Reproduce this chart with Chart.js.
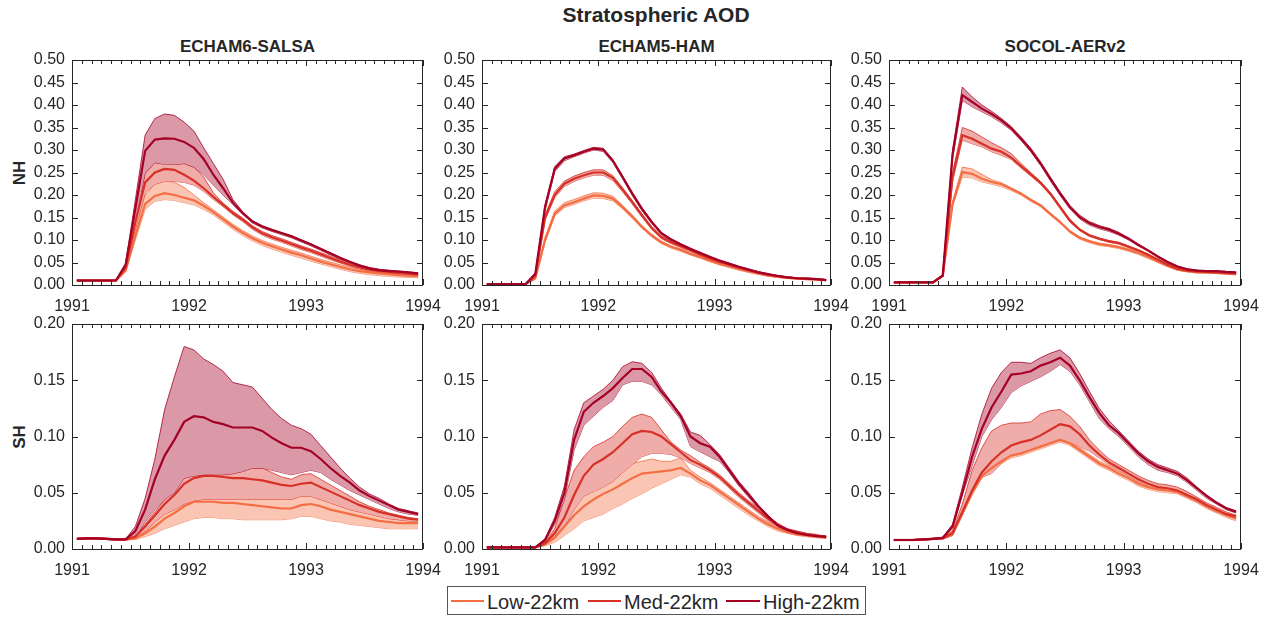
<!DOCTYPE html>
<html>
<head>
<meta charset="utf-8">
<script src="https://cdn.jsdelivr.net/npm/chart.js@4.4.1/dist/chart.umd.min.js"></script>
<style>
  body { margin: 0; background: #fff; font-family: "Liberation Sans", Arial, sans-serif; color: #262626; }
  #fig { position: relative; width: 1270px; height: 619px; overflow: hidden; }
  .panel { position: absolute; }
  .txt { position: absolute; line-height: 1; white-space: nowrap; font-weight: bold; }
  .rowlab { position: absolute; line-height: 1; font-weight: bold; font-size: 17px; transform: translate(-50%, -50%) rotate(-90deg); }
  #legend { position: absolute; left: 447px; top: 586px; width: 417px; height: 27px; border: 1px solid #555; background: #fff; }
  .lgline { position: absolute; height: 2px; top: 13px; }
  .lgtext { position: absolute; top: 5px; font-size: 20px; line-height: 1; }
</style>
</head>
<body>
<div id="fig">
  <div class="txt" style="left:656px; top:4px; font-size:21px; transform:translateX(-50%);">Stratospheric AOD</div>
  <div class="txt" style="left:247.5px; top:38px; font-size:17px; transform:translateX(-50%);">ECHAM6-SALSA</div>
  <div class="txt" style="left:656.5px; top:38px; font-size:17px; transform:translateX(-50%);">ECHAM5-HAM</div>
  <div class="txt" style="left:1065px; top:38px; font-size:17px; transform:translateX(-50%);">SOCOL-AERv2</div>
  <div class="rowlab" style="left:19px; top:172.5px;">NH</div>
  <div class="rowlab" style="left:19px; top:436.5px;">SH</div>
  <div id="legend">
    <div class="lgline" style="left:3px; width:33px; background:#f46d43;"></div>
    <div class="lgtext" style="left:39px;">Low-22km</div>
    <div class="lgline" style="left:140px; width:33px; background:#d73027;"></div>
    <div class="lgtext" style="left:176px;">Med-22km</div>
    <div class="lgline" style="left:278px; width:34px; background:#a50026;"></div>
    <div class="lgtext" style="left:315px;">High-22km</div>
  </div>
</div>

<script>
// monthly means, Jan 1991 - Dec 1993
const months = ['1991-01','1991-02','1991-03','1991-04','1991-05','1991-06','1991-07','1991-08','1991-09','1991-10','1991-11','1991-12',
                '1992-01','1992-02','1992-03','1992-04','1992-05','1992-06','1992-07','1992-08','1992-09','1992-10','1992-11','1992-12',
                '1993-01','1993-02','1993-03','1993-04','1993-05','1993-06','1993-07','1993-08','1993-09','1993-10','1993-11','1993-12'];
const yearTicks = [1991, 1992, 1993, 1994];
const models = ['ECHAM6-SALSA', 'ECHAM5-HAM', 'SOCOL-AERv2'];
const scenarios = ['Low-22km', 'Med-22km', 'High-22km'];

// ECHAM6-SALSA, NH
const salsaNhHighMean = [0.010,0.010,0.010,0.010,0.010,0.045,0.170,0.298,0.323,0.326,0.325,0.318,0.305,0.280,0.245,0.215,0.183,0.160,0.141,0.130,0.122,0.115,0.108,0.099,0.090,0.080,0.070,0.060,0.051,0.043,0.037,0.033,0.031,0.030,0.028,0.026];
const salsaNhHighMax  = [0.011,0.011,0.011,0.011,0.011,0.048,0.190,0.333,0.370,0.380,0.377,0.362,0.342,0.305,0.270,0.235,0.190,0.163,0.143,0.132,0.124,0.117,0.110,0.101,0.092,0.082,0.072,0.062,0.053,0.045,0.039,0.035,0.033,0.031,0.029,0.027];
const salsaNhHighMin  = [0.009,0.009,0.009,0.009,0.009,0.040,0.140,0.250,0.272,0.268,0.268,0.270,0.262,0.245,0.222,0.200,0.178,0.157,0.138,0.127,0.119,0.112,0.105,0.096,0.087,0.077,0.067,0.058,0.049,0.041,0.035,0.031,0.029,0.028,0.026,0.024];
const salsaNhMedMean  = [0.010,0.010,0.010,0.010,0.010,0.038,0.140,0.228,0.250,0.258,0.256,0.245,0.232,0.215,0.196,0.178,0.160,0.145,0.128,0.115,0.106,0.099,0.091,0.083,0.076,0.068,0.060,0.052,0.045,0.039,0.034,0.031,0.029,0.027,0.025,0.023];
const salsaNhMedMax   = [0.011,0.011,0.011,0.011,0.011,0.040,0.155,0.248,0.272,0.270,0.268,0.270,0.262,0.240,0.205,0.182,0.164,0.149,0.132,0.119,0.110,0.103,0.095,0.087,0.080,0.072,0.064,0.056,0.049,0.042,0.037,0.034,0.031,0.029,0.027,0.025];
const salsaNhMedMin   = [0.009,0.009,0.009,0.009,0.009,0.036,0.125,0.205,0.224,0.230,0.230,0.228,0.222,0.208,0.190,0.174,0.156,0.141,0.124,0.111,0.102,0.095,0.087,0.079,0.072,0.064,0.056,0.049,0.042,0.036,0.031,0.028,0.026,0.025,0.023,0.021];
const salsaNhLowMean  = [0.0095,0.0095,0.0095,0.0095,0.0095,0.032,0.110,0.180,0.198,0.204,0.200,0.194,0.188,0.176,0.162,0.146,0.130,0.116,0.104,0.094,0.086,0.079,0.072,0.066,0.059,0.052,0.046,0.040,0.035,0.031,0.028,0.026,0.024,0.022,0.021,0.019];
const salsaNhLowMax   = [0.010,0.010,0.010,0.010,0.010,0.035,0.125,0.200,0.225,0.232,0.228,0.217,0.200,0.183,0.167,0.151,0.135,0.121,0.109,0.099,0.091,0.084,0.077,0.071,0.064,0.057,0.051,0.045,0.040,0.035,0.032,0.030,0.028,0.026,0.025,0.023];
const salsaNhLowMin   = [0.009,0.009,0.009,0.009,0.009,0.030,0.100,0.168,0.186,0.190,0.188,0.183,0.178,0.168,0.156,0.140,0.124,0.110,0.098,0.088,0.080,0.073,0.066,0.060,0.053,0.047,0.041,0.035,0.030,0.026,0.023,0.021,0.019,0.018,0.017,0.016];

// ECHAM5-HAM, NH
const hamNhHighMean = [0.002,0.002,0.002,0.002,0.002,0.025,0.173,0.258,0.281,0.288,0.296,0.303,0.301,0.276,0.240,0.203,0.169,0.140,0.115,0.101,0.090,0.080,0.071,0.062,0.054,0.047,0.040,0.034,0.028,0.024,0.020,0.017,0.015,0.014,0.013,0.011];
const hamNhHighMax  = [0.0025,0.0025,0.0025,0.0025,0.0025,0.027,0.178,0.263,0.285,0.291,0.299,0.306,0.304,0.279,0.243,0.206,0.172,0.143,0.117,0.103,0.092,0.082,0.073,0.064,0.056,0.049,0.042,0.036,0.030,0.025,0.021,0.018,0.016,0.015,0.014,0.012];
const hamNhHighMin  = [0.0015,0.0015,0.0015,0.0015,0.0015,0.023,0.165,0.252,0.276,0.285,0.293,0.300,0.297,0.272,0.236,0.199,0.165,0.137,0.112,0.098,0.088,0.078,0.069,0.060,0.052,0.045,0.038,0.032,0.027,0.023,0.019,0.016,0.014,0.013,0.012,0.010];
const hamNhMedMean  = [0.002,0.002,0.002,0.002,0.002,0.020,0.150,0.200,0.225,0.236,0.244,0.250,0.250,0.238,0.212,0.184,0.155,0.127,0.106,0.095,0.086,0.077,0.068,0.059,0.052,0.045,0.039,0.033,0.028,0.023,0.020,0.017,0.015,0.014,0.013,0.011];
const hamNhMedMax   = [0.0025,0.0025,0.0025,0.0025,0.0025,0.022,0.156,0.207,0.231,0.242,0.250,0.256,0.256,0.243,0.216,0.188,0.158,0.130,0.109,0.097,0.088,0.079,0.070,0.061,0.054,0.047,0.040,0.034,0.029,0.024,0.021,0.018,0.016,0.015,0.014,0.012];
const hamNhMedMin   = [0.0015,0.0015,0.0015,0.0015,0.0015,0.018,0.144,0.194,0.219,0.230,0.238,0.244,0.244,0.232,0.207,0.180,0.151,0.124,0.103,0.092,0.083,0.074,0.066,0.057,0.050,0.043,0.037,0.031,0.026,0.022,0.019,0.016,0.014,0.013,0.012,0.010];
const hamNhLowMean  = [0.002,0.002,0.002,0.002,0.002,0.015,0.100,0.158,0.177,0.184,0.192,0.199,0.198,0.192,0.173,0.152,0.129,0.110,0.095,0.085,0.078,0.069,0.062,0.054,0.047,0.041,0.035,0.030,0.025,0.021,0.018,0.016,0.014,0.013,0.012,0.011];
const hamNhLowMax   = [0.0025,0.0025,0.0025,0.0025,0.0025,0.017,0.106,0.164,0.183,0.190,0.198,0.205,0.204,0.197,0.177,0.156,0.132,0.113,0.097,0.087,0.080,0.071,0.064,0.056,0.049,0.043,0.037,0.031,0.026,0.022,0.019,0.017,0.015,0.014,0.013,0.012];
const hamNhLowMin   = [0.0015,0.0015,0.0015,0.0015,0.0015,0.013,0.095,0.153,0.172,0.179,0.187,0.193,0.192,0.187,0.169,0.148,0.126,0.107,0.092,0.082,0.075,0.067,0.060,0.052,0.045,0.039,0.033,0.028,0.024,0.020,0.017,0.015,0.013,0.012,0.011,0.010];

// SOCOL-AERv2, NH
const socolNhHighMean = [0.006,0.006,0.006,0.006,0.006,0.021,0.290,0.422,0.407,0.392,0.380,0.366,0.348,0.325,0.300,0.270,0.236,0.203,0.173,0.151,0.137,0.129,0.123,0.114,0.103,0.089,0.077,0.063,0.051,0.041,0.035,0.032,0.031,0.031,0.029,0.028];
const socolNhHighMax  = [0.0065,0.0065,0.0065,0.0065,0.0065,0.023,0.300,0.440,0.418,0.400,0.386,0.370,0.352,0.329,0.304,0.274,0.240,0.207,0.177,0.155,0.141,0.132,0.126,0.117,0.105,0.091,0.078,0.065,0.052,0.042,0.036,0.033,0.032,0.031,0.030,0.028];
const socolNhHighMin  = [0.0055,0.0055,0.0055,0.0055,0.0055,0.019,0.280,0.410,0.396,0.385,0.374,0.360,0.344,0.321,0.296,0.266,0.232,0.199,0.169,0.147,0.133,0.125,0.119,0.111,0.100,0.087,0.075,0.061,0.049,0.040,0.034,0.031,0.030,0.030,0.028,0.027];
const socolNhMedMean  = [0.006,0.006,0.006,0.006,0.006,0.021,0.240,0.333,0.325,0.314,0.303,0.296,0.283,0.264,0.246,0.227,0.203,0.173,0.143,0.123,0.110,0.103,0.097,0.093,0.085,0.077,0.067,0.056,0.045,0.036,0.032,0.030,0.029,0.028,0.027,0.025];
const socolNhMedMax   = [0.0065,0.0065,0.0065,0.0065,0.0065,0.023,0.250,0.350,0.342,0.329,0.316,0.305,0.292,0.270,0.250,0.230,0.206,0.176,0.146,0.125,0.112,0.104,0.099,0.095,0.087,0.078,0.069,0.057,0.047,0.038,0.033,0.031,0.030,0.029,0.028,0.026];
const socolNhMedMin   = [0.0055,0.0055,0.0055,0.0055,0.0055,0.019,0.230,0.322,0.314,0.307,0.296,0.288,0.279,0.260,0.242,0.224,0.200,0.170,0.140,0.121,0.108,0.101,0.095,0.091,0.083,0.075,0.065,0.054,0.044,0.035,0.031,0.029,0.028,0.027,0.026,0.024];
const socolNhLowMean  = [0.006,0.006,0.006,0.006,0.006,0.021,0.180,0.251,0.247,0.236,0.229,0.224,0.214,0.203,0.189,0.177,0.158,0.140,0.119,0.105,0.097,0.091,0.088,0.084,0.078,0.071,0.062,0.052,0.042,0.034,0.031,0.028,0.028,0.027,0.025,0.024];
const socolNhLowMax   = [0.0065,0.0065,0.0065,0.0065,0.0065,0.023,0.185,0.262,0.258,0.246,0.234,0.227,0.216,0.205,0.191,0.179,0.160,0.142,0.121,0.107,0.099,0.093,0.090,0.086,0.080,0.072,0.063,0.053,0.043,0.035,0.031,0.029,0.028,0.028,0.026,0.025];
const socolNhLowMin   = [0.0055,0.0055,0.0055,0.0055,0.0055,0.019,0.175,0.240,0.238,0.229,0.224,0.218,0.210,0.200,0.186,0.174,0.155,0.137,0.116,0.102,0.094,0.088,0.085,0.081,0.075,0.068,0.059,0.050,0.041,0.033,0.029,0.027,0.026,0.026,0.024,0.023];

// ECHAM6-SALSA, SH
const salsaShHighMean = [0.009,0.0095,0.0095,0.009,0.0085,0.0085,0.016,0.035,0.062,0.083,0.097,0.113,0.118,0.117,0.113,0.111,0.108,0.108,0.108,0.105,0.099,0.094,0.090,0.090,0.087,0.080,0.072,0.065,0.059,0.052,0.047,0.043,0.039,0.035,0.033,0.031];
const salsaShHighMax  = [0.0095,0.010,0.010,0.0095,0.009,0.009,0.020,0.045,0.080,0.124,0.153,0.180,0.177,0.169,0.164,0.158,0.148,0.146,0.144,0.134,0.124,0.116,0.110,0.107,0.102,0.092,0.082,0.072,0.063,0.055,0.049,0.045,0.040,0.036,0.034,0.032];
const salsaShHighMin  = [0.0085,0.009,0.009,0.0085,0.008,0.008,0.011,0.024,0.035,0.044,0.050,0.063,0.065,0.066,0.066,0.066,0.067,0.069,0.072,0.072,0.070,0.068,0.066,0.068,0.070,0.068,0.062,0.057,0.052,0.048,0.044,0.040,0.036,0.033,0.031,0.030];
const salsaShMedMean  = [0.009,0.0095,0.0095,0.009,0.0085,0.0085,0.011,0.020,0.030,0.040,0.048,0.058,0.063,0.065,0.065,0.064,0.063,0.063,0.062,0.061,0.059,0.057,0.056,0.058,0.059,0.055,0.051,0.047,0.043,0.039,0.036,0.033,0.031,0.029,0.027,0.026];
const salsaShMedMax   = [0.0095,0.010,0.010,0.0095,0.009,0.009,0.012,0.022,0.033,0.044,0.052,0.063,0.065,0.066,0.066,0.066,0.067,0.069,0.072,0.072,0.068,0.064,0.062,0.066,0.067,0.062,0.057,0.052,0.047,0.042,0.038,0.035,0.032,0.030,0.028,0.027];
const salsaShMedMin   = [0.0085,0.009,0.009,0.0085,0.008,0.008,0.0095,0.016,0.024,0.031,0.035,0.040,0.043,0.044,0.044,0.044,0.044,0.044,0.044,0.044,0.044,0.044,0.044,0.047,0.047,0.044,0.041,0.038,0.035,0.033,0.031,0.029,0.027,0.026,0.025,0.025];
const salsaShLowMean  = [0.009,0.0095,0.0095,0.009,0.0085,0.0085,0.0095,0.014,0.020,0.027,0.032,0.038,0.042,0.042,0.042,0.041,0.041,0.040,0.039,0.038,0.037,0.036,0.036,0.039,0.040,0.038,0.035,0.033,0.031,0.029,0.027,0.025,0.024,0.023,0.023,0.023];
const salsaShLowMax   = [0.0085,0.009,0.009,0.0085,0.008,0.008,0.0095,0.016,0.024,0.031,0.035,0.040,0.043,0.044,0.044,0.044,0.044,0.044,0.044,0.044,0.044,0.044,0.044,0.047,0.047,0.044,0.041,0.038,0.035,0.033,0.031,0.029,0.027,0.026,0.025,0.025];
const salsaShLowMin   = [0.0085,0.009,0.009,0.0085,0.008,0.008,0.0085,0.011,0.014,0.018,0.021,0.024,0.027,0.028,0.028,0.027,0.027,0.026,0.026,0.026,0.026,0.026,0.027,0.029,0.029,0.027,0.025,0.024,0.022,0.021,0.020,0.019,0.018,0.018,0.018,0.018];

// ECHAM5-HAM, SH
const hamShHighMean = [0.0015,0.0015,0.0015,0.0015,0.0015,0.0015,0.008,0.025,0.050,0.097,0.122,0.130,0.136,0.143,0.152,0.160,0.160,0.153,0.140,0.130,0.118,0.100,0.094,0.091,0.082,0.070,0.058,0.048,0.038,0.029,0.021,0.017,0.014,0.0125,0.0115,0.011];
const hamShHighMax  = [0.002,0.002,0.002,0.002,0.002,0.002,0.009,0.028,0.056,0.106,0.130,0.136,0.142,0.150,0.162,0.1665,0.165,0.157,0.143,0.131,0.120,0.104,0.101,0.093,0.084,0.072,0.060,0.050,0.039,0.030,0.022,0.018,0.015,0.013,0.012,0.0115];
const hamShHighMin  = [0.001,0.001,0.001,0.001,0.001,0.001,0.007,0.022,0.044,0.088,0.110,0.118,0.126,0.132,0.146,0.149,0.149,0.146,0.137,0.126,0.115,0.091,0.0865,0.082,0.078,0.068,0.056,0.046,0.036,0.028,0.020,0.016,0.013,0.012,0.011,0.0105];
const hamShMedMean  = [0.0015,0.0015,0.0015,0.0015,0.0015,0.0015,0.005,0.014,0.028,0.048,0.065,0.075,0.080,0.086,0.094,0.102,0.105,0.104,0.100,0.093,0.086,0.079,0.075,0.070,0.064,0.056,0.048,0.041,0.034,0.027,0.021,0.017,0.015,0.013,0.012,0.0105];
const hamShMedMax   = [0.002,0.002,0.002,0.002,0.002,0.002,0.006,0.018,0.045,0.070,0.082,0.091,0.095,0.100,0.109,0.117,0.120,0.117,0.106,0.095,0.088,0.083,0.077,0.072,0.066,0.058,0.050,0.043,0.036,0.029,0.023,0.018,0.016,0.014,0.013,0.011];
const hamShMedMin   = [0.001,0.001,0.001,0.001,0.001,0.001,0.004,0.010,0.020,0.035,0.047,0.051,0.055,0.060,0.068,0.075,0.082,0.085,0.085,0.084,0.081,0.076,0.072,0.068,0.062,0.054,0.046,0.039,0.032,0.025,0.020,0.016,0.014,0.012,0.011,0.010];
const hamShLowMean  = [0.0015,0.0015,0.0015,0.0015,0.0015,0.0015,0.004,0.010,0.020,0.030,0.038,0.044,0.049,0.053,0.058,0.063,0.067,0.068,0.069,0.070,0.072,0.067,0.061,0.057,0.051,0.045,0.039,0.033,0.027,0.022,0.018,0.015,0.013,0.012,0.011,0.010];
const hamShLowMax   = [0.002,0.002,0.002,0.002,0.002,0.002,0.005,0.015,0.028,0.040,0.050,0.055,0.060,0.065,0.072,0.076,0.078,0.080,0.078,0.078,0.081,0.070,0.064,0.059,0.053,0.047,0.041,0.035,0.029,0.024,0.019,0.016,0.014,0.013,0.012,0.011];
const hamShLowMin   = [0.001,0.001,0.001,0.001,0.001,0.001,0.003,0.006,0.012,0.018,0.025,0.028,0.031,0.036,0.040,0.045,0.049,0.054,0.058,0.062,0.066,0.064,0.058,0.054,0.048,0.042,0.036,0.030,0.025,0.020,0.016,0.014,0.012,0.011,0.010,0.0095];

// SOCOL-AERv2, SH
const socolShHighMean = [0.008,0.008,0.008,0.0085,0.009,0.010,0.020,0.050,0.082,0.107,0.126,0.140,0.155,0.156,0.158,0.163,0.166,0.170,0.163,0.150,0.135,0.121,0.110,0.103,0.094,0.085,0.078,0.073,0.070,0.067,0.061,0.054,0.047,0.041,0.036,0.033];
const socolShHighMax  = [0.0085,0.0085,0.0085,0.009,0.0095,0.0105,0.022,0.055,0.090,0.120,0.143,0.157,0.166,0.166,0.165,0.170,0.174,0.177,0.170,0.156,0.140,0.125,0.114,0.105,0.096,0.087,0.080,0.075,0.072,0.069,0.063,0.055,0.048,0.042,0.037,0.034];
const socolShHighMin  = [0.0075,0.0075,0.0075,0.008,0.0085,0.0095,0.018,0.048,0.074,0.100,0.115,0.126,0.139,0.145,0.149,0.153,0.158,0.164,0.158,0.146,0.131,0.116,0.107,0.100,0.091,0.082,0.075,0.070,0.068,0.065,0.059,0.052,0.045,0.040,0.035,0.032];
const socolShMedMean  = [0.008,0.008,0.008,0.0085,0.009,0.0095,0.014,0.033,0.052,0.068,0.078,0.086,0.092,0.095,0.097,0.101,0.106,0.111,0.109,0.102,0.092,0.084,0.077,0.072,0.067,0.062,0.058,0.055,0.054,0.052,0.048,0.044,0.039,0.035,0.031,0.029];
const socolShMedMax   = [0.0085,0.0085,0.0085,0.009,0.0095,0.010,0.016,0.040,0.070,0.090,0.105,0.110,0.112,0.112,0.113,0.120,0.123,0.124,0.118,0.109,0.097,0.088,0.080,0.075,0.070,0.065,0.061,0.058,0.057,0.055,0.051,0.046,0.041,0.037,0.033,0.030];
const socolShMedMin   = [0.0075,0.0075,0.0075,0.008,0.0085,0.009,0.012,0.030,0.050,0.064,0.067,0.076,0.084,0.085,0.088,0.091,0.095,0.098,0.095,0.091,0.087,0.081,0.075,0.070,0.065,0.060,0.056,0.053,0.052,0.050,0.046,0.042,0.037,0.033,0.030,0.027];
const socolShLowMean  = [0.008,0.008,0.008,0.0085,0.009,0.0095,0.013,0.032,0.050,0.065,0.072,0.078,0.083,0.085,0.088,0.091,0.094,0.097,0.094,0.088,0.082,0.076,0.072,0.067,0.063,0.058,0.055,0.053,0.052,0.051,0.047,0.043,0.038,0.034,0.030,0.027];
const socolShLowMax   = [0.0085,0.0085,0.0085,0.009,0.0095,0.010,0.014,0.034,0.052,0.067,0.074,0.080,0.085,0.087,0.090,0.093,0.096,0.099,0.096,0.090,0.084,0.078,0.074,0.069,0.065,0.060,0.057,0.055,0.054,0.053,0.049,0.045,0.040,0.036,0.032,0.029];
const socolShLowMin   = [0.0075,0.0075,0.0075,0.008,0.0085,0.009,0.012,0.030,0.048,0.063,0.070,0.076,0.081,0.083,0.086,0.089,0.092,0.095,0.092,0.086,0.080,0.074,0.070,0.065,0.061,0.056,0.053,0.051,0.050,0.049,0.045,0.041,0.036,0.032,0.028,0.025];

const LOW = '#f46d43', MED = '#d73027', HIGH = '#a50026';
const LOW_FILL = '#fbc5b4', MED_FILL = '#efaca9', HIGH_FILL = '#db99a8';
const AXIS = '#262626';

Chart.defaults.font.family = '"Liberation Sans", Arial, sans-serif';
Chart.defaults.font.size = 16;
Chart.defaults.color = AXIS;

// month label -> decimal year at mid-month
const monthX = months.map(m => {
    const [y, mo] = m.split('-').map(Number);
    return y + (mo - 0.5) / 12;
});

function pts(arr) {
    return arr.map((v, i) => ({ x: monthX[i], y: v }));
}

// inner ticks on all four sides plus the box
const frame = {
    id: 'frame',
    afterDraw(chart) {
        const { ctx, chartArea: a, scales: { x, y } } = chart;
        ctx.save();
        ctx.strokeStyle = AXIS;
        ctx.lineWidth = 1;
        ctx.beginPath();
        for (let m = 0; m <= 36; m++) {
            const px = Math.round(x.getPixelForValue(1991 + m / 12)) + 0.5;
            const len = m % 12 === 0 ? 6 : 4;
            ctx.moveTo(px, a.bottom); ctx.lineTo(px, a.bottom - len);
            ctx.moveTo(px, a.top); ctx.lineTo(px, a.top + len);
        }
        y.ticks.forEach(t => {
            const py = Math.round(y.getPixelForValue(t.value)) + 0.5;
            ctx.moveTo(a.left, py); ctx.lineTo(a.left + 6, py);
            ctx.moveTo(a.right, py); ctx.lineTo(a.right - 6, py);
        });
        ctx.stroke();
        ctx.strokeRect(Math.round(a.left) + 0.5, Math.round(a.top) + 0.5,
                       Math.round(a.width) - 1, Math.round(a.height));
        ctx.restore();
    }
};

const PAD_L = 60, PAD_T = 22, PAD_R = 30, PAD_B = 34;
const colLeft = [72, 482, 889], colRight = [423, 831, 1241];
const rowTop = [60, 324], rowBottom = [285, 549];

function makePanel(col, row, yMax, low, med, high) {
    const div = document.createElement('div');
    div.className = 'panel';
    div.style.left = (colLeft[col] - PAD_L) + 'px';
    div.style.top = (rowTop[row] - PAD_T) + 'px';
    div.style.width = (colRight[col] - colLeft[col] + PAD_L + PAD_R) + 'px';
    div.style.height = (rowBottom[row] - rowTop[row] + PAD_T + PAD_B) + 'px';
    const canvas = document.createElement('canvas');
    div.appendChild(canvas);
    document.getElementById('fig').appendChild(div);

    const meanLine = (data, color) => ({
        data: pts(data), borderColor: color, borderWidth: 2.2, pointRadius: 0, fill: false
    });
    const edgeLine = (data, color, fillColor, target) => ({
        data: pts(data), borderColor: color, borderWidth: 0.8, pointRadius: 0,
        backgroundColor: fillColor, fill: target === undefined ? false : target
    });

    new Chart(canvas, {
        type: 'line',
        data: {
            datasets: [
                meanLine(high[0], HIGH),
                meanLine(med[0], MED),
                meanLine(low[0], LOW),
                edgeLine(high[2], HIGH, HIGH_FILL, 4),
                edgeLine(high[1], HIGH),
                edgeLine(med[2], MED, MED_FILL, 6),
                edgeLine(med[1], MED),
                edgeLine(low[2], LOW, LOW_FILL, 8),
                edgeLine(low[1], LOW)
            ]
        },
        options: {
            responsive: true,
            maintainAspectRatio: false,
            animation: false,
            layout: { padding: { left: 0, top: PAD_T, right: PAD_R, bottom: 0 } },
            plugins: { legend: { display: false }, tooltip: { enabled: false } },
            elements: { line: { tension: 0 } },
            scales: {
                x: {
                    type: 'linear', min: 1991, max: 1994,
                    afterBuildTicks: s => { s.ticks = yearTicks.map(v => ({ value: v })); },
                    afterFit: s => { s.height = PAD_B; },
                    grid: { display: false, drawTicks: false },
                    border: { display: false },
                    ticks: { padding: 12, maxRotation: 0, autoSkip: false, callback: v => String(v) }
                },
                y: {
                    min: 0, max: yMax,
                    afterFit: s => { s.width = PAD_L; },
                    grid: { display: false, drawTicks: false },
                    border: { display: false },
                    ticks: { stepSize: 0.05, padding: 7, autoSkip: false, callback: v => v.toFixed(2) }
                }
            }
        },
        plugins: [frame]
    });
}

makePanel(0, 0, 0.5, [salsaNhLowMean, salsaNhLowMin, salsaNhLowMax], [salsaNhMedMean, salsaNhMedMin, salsaNhMedMax], [salsaNhHighMean, salsaNhHighMin, salsaNhHighMax]);
makePanel(1, 0, 0.5, [hamNhLowMean, hamNhLowMin, hamNhLowMax], [hamNhMedMean, hamNhMedMin, hamNhMedMax], [hamNhHighMean, hamNhHighMin, hamNhHighMax]);
makePanel(2, 0, 0.5, [socolNhLowMean, socolNhLowMin, socolNhLowMax], [socolNhMedMean, socolNhMedMin, socolNhMedMax], [socolNhHighMean, socolNhHighMin, socolNhHighMax]);
makePanel(0, 1, 0.2, [salsaShLowMean, salsaShLowMin, salsaShLowMax], [salsaShMedMean, salsaShMedMin, salsaShMedMax], [salsaShHighMean, salsaShHighMin, salsaShHighMax]);
makePanel(1, 1, 0.2, [hamShLowMean, hamShLowMin, hamShLowMax], [hamShMedMean, hamShMedMin, hamShMedMax], [hamShHighMean, hamShHighMin, hamShHighMax]);
makePanel(2, 1, 0.2, [socolShLowMean, socolShLowMin, socolShLowMax], [socolShMedMean, socolShMedMin, socolShMedMax], [socolShHighMean, socolShHighMin, socolShHighMax]);
</script>
</body>
</html>
